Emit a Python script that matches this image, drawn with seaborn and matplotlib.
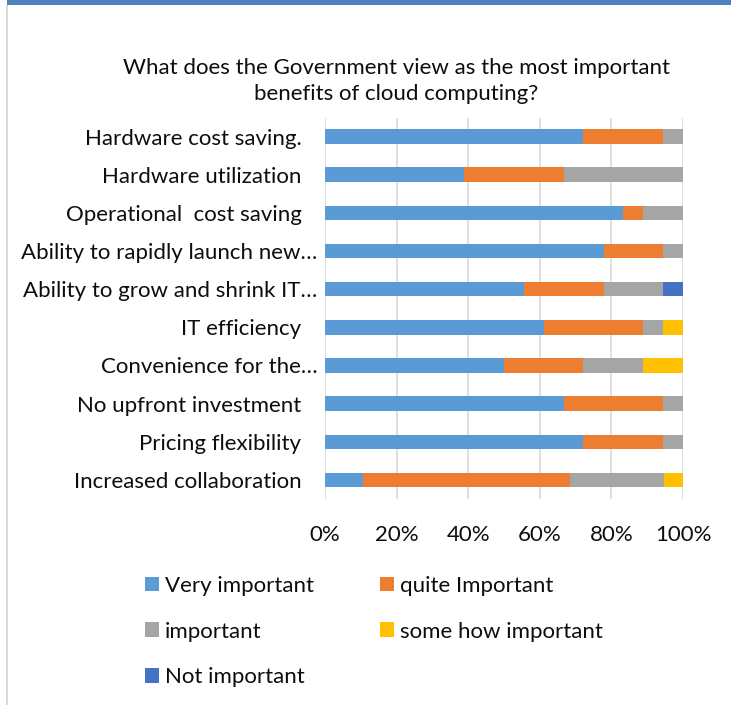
import matplotlib
matplotlib.use("Agg")
import matplotlib.pyplot as plt
from matplotlib.patches import Patch, Rectangle
from matplotlib.transforms import ScaledTranslation
import numpy as np
import pandas as pd
import seaborn as sns

# ---- data (percent of respondents) ----
categories = [
    "Hardware cost saving.",
    "Hardware utilization",
    "Operational  cost saving",
    "Ability to rapidly launch new\u2026",
    "Ability to grow and shrink IT\u2026",
    "IT efficiency",
    "Convenience for the\u2026",
    "No upfront investment",
    "Pricing flexibility",
    "Increased collaboration",
]
series_names = ["Very important", "quite Important", "important",
                "some how important", "Not important"]
very_important = [72.2, 38.9, 83.3, 77.8, 55.6, 61.1, 50.0, 66.7, 72.2, 10.5]
quite_important = [22.2, 27.8, 5.6, 16.7, 22.2, 27.8, 22.2, 27.8, 22.2, 57.9]
important = [5.6, 33.3, 11.1, 5.6, 16.7, 5.6, 16.7, 5.5, 5.6, 26.3]
somehow_important = [0.0, 0.0, 0.0, 0.0, 0.0, 5.5, 11.1, 0.0, 0.0, 5.3]
not_important = [0.0, 0.0, 0.0, 0.0, 5.5, 0.0, 0.0, 0.0, 0.0, 0.0]
x_ticks = [0, 20, 40, 60, 80, 100]
x_tick_labels = ["0%", "20%", "40%", "60%", "80%", "100%"]
title = "What does the Government view as the most important\nbenefits of cloud computing?"

colors = ["#5B9BD5", "#ED7D31", "#A5A5A5", "#FFC000", "#4472C4"]

df = pd.DataFrame({
    "category": categories,
    series_names[0]: very_important,
    series_names[1]: quite_important,
    series_names[2]: important,
    series_names[3]: somehow_important,
    series_names[4]: not_important,
})
cum = df[series_names].cumsum(axis=1)

sns.set_theme(style="white")
plt.rcParams["font.family"] = ["Lato", "DejaVu Sans"]
txt_color = "#0d0d0d"
fs = 16

W, H = 731, 705
fig = plt.figure(figsize=(W / 100, H / 100), dpi=100)
fig.patch.set_facecolor("white")

ax = fig.add_axes([325 / W, 1 - 499 / H, 358 / W, (499 - 117.5) / H])

# stacked bars: draw cumulative totals from the last series to the first
for i in reversed(range(len(series_names))):
    sns.barplot(x=cum[series_names[i]].values, y=df["category"], color=colors[i],
                orient="h", width=0.38, ax=ax, saturation=1, linewidth=0)

ax.set_xlim(0, 100)
ax.set_xticks(x_ticks)
ax.set_xticklabels(x_tick_labels)
ax.set_xlabel("")
ax.set_ylabel("")
ax.grid(axis="x", color="#D9D9D9", linewidth=1.2)
ax.grid(axis="y", visible=False)
ax.set_axisbelow(True)
for s in ax.spines.values():
    s.set_visible(False)
ax.tick_params(axis="y", length=0, pad=17, labelsize=fs, labelcolor=txt_color)
ax.tick_params(axis="x", length=0, pad=19, labelsize=fs, labelcolor=txt_color)

# truncated (ellipsis) labels sit a little closer to the bars, as in Excel
for lab in ax.get_yticklabels():
    if lab.get_text().endswith("\u2026"):
        lab.set_transform(lab.get_transform() +
                          ScaledTranslation(0.16, 0, fig.dpi_scale_trans))

fig.text(396 / W, 1 - 81 / H, title, ha="center", va="center", fontsize=16,
         color=txt_color, linespacing=1.41)

order = [0, 2, 4, 1, 3]
handles = [Patch(facecolor=colors[i], edgecolor="none") for i in order]
labels = [series_names[i] for i in order]
fig.legend(handles, labels, ncol=2, loc="upper left",
           bbox_to_anchor=(145 / W, 1 - 576 / H), frameon=False,
           fontsize=fs, handlelength=0.63, handleheight=0.63,
           handletextpad=0.27, columnspacing=2.95, labelspacing=1.15,
           labelcolor=txt_color, borderaxespad=0, borderpad=0)

# chart frame remnants
fig.patches.append(Rectangle((7 / W, 1 - 5 / H), 1, 5 / H, transform=fig.transFigure,
                             facecolor="#4F81BD", edgecolor="none"))
fig.patches.append(Rectangle((6 / W, 0), 2 / W, 1 - 5 / H, transform=fig.transFigure,
                             facecolor="#D9D9D9", edgecolor="none"))

fig.savefig("out.png", dpi=100)
